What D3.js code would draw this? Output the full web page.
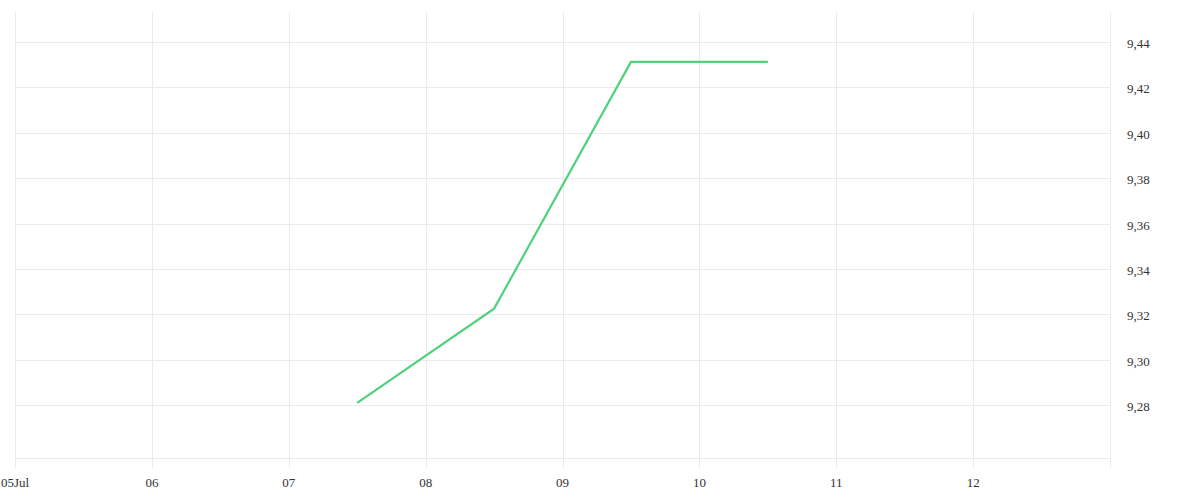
<!DOCTYPE html>
<html>
<head>
<meta charset="utf-8">
<script src="https://cdn.jsdelivr.net/npm/d3@7"></script>
<style>
  html, body { margin: 0; padding: 0; background: #fff; }
  svg { display: block; }
  text { font-family: "Liberation Serif", "DejaVu Serif", serif; font-size: 13px; fill: #333; }
</style>
</head>
<body>
<svg id="chart" width="1200" height="500"></svg>
<script>
const dates = ["2024-07-07T12:00", "2024-07-08T12:00", "2024-07-09T12:00", "2024-07-10T12:00"];
const values = [9.281, 9.3225, 9.4312, 9.4312];
const yTicks = [9.28, 9.30, 9.32, 9.34, 9.36, 9.38, 9.40, 9.42, 9.44];
const xTickDays = ["2024-07-05", "2024-07-06", "2024-07-07", "2024-07-08", "2024-07-09", "2024-07-10", "2024-07-11", "2024-07-12"];
const xTickLabels = ["05Jul", "06", "07", "08", "09", "10", "11", "12"];
const xDomain = ["2024-07-05T00:00", "2024-07-13T00:00"];
const yDomain = [9.2567, 9.4532];

const parse = d3.timeParse("%Y-%m-%dT%H:%M");
const parseDay = d3.timeParse("%Y-%m-%d");

const mLeft = 15, mRight = 1110, mTop = 12, mBottom = 458;
const svg = d3.select("#chart");

const x = d3.scaleTime().domain(xDomain.map(parse)).range([mLeft, mRight]);
const y = d3.scaleLinear().domain(yDomain).range([mBottom, mTop]);

const grid = "#ebebeb";

// horizontal grid
svg.append("g").selectAll("line").data(yTicks).join("line")
  .attr("x1", mLeft).attr("x2", mRight)
  .attr("y1", d => Math.round(y(d)) + 0.5).attr("y2", d => Math.round(y(d)) + 0.5)
  .attr("stroke", grid).attr("stroke-width", 1);
// bottom line
svg.append("line").attr("x1", mLeft).attr("x2", mRight)
  .attr("y1", mBottom + 0.5).attr("y2", mBottom + 0.5)
  .attr("stroke", grid);

// vertical grid
const xTicks = xTickDays.map(parseDay);
svg.append("g").selectAll("line").data(xTicks).join("line")
  .attr("x1", d => Math.round(x(d)) + 0.5).attr("x2", d => Math.round(x(d)) + 0.5)
  .attr("y1", mTop).attr("y2", mBottom + 10)
  .attr("stroke", grid);
// right border
svg.append("line").attr("x1", mRight + 0.5).attr("x2", mRight + 0.5)
  .attr("y1", mTop).attr("y2", mBottom + 10).attr("stroke", grid);

// x labels
svg.append("g").selectAll("text").data(xTicks).join("text")
  .attr("x", d => x(d)).attr("y", 487)
  .attr("text-anchor", "middle")
  .text((d, i) => xTickLabels[i]);

// y labels
const fmt = d => d3.format(".2f")(d).replace(".", ",");
svg.append("g").selectAll("text").data(yTicks).join("text")
  .attr("x", 1127).attr("y", d => y(d) + 6)
  .text(fmt);

// line
const data = dates.map((d, i) => ({ t: parse(d), v: values[i] }));
svg.append("path").datum(data)
  .attr("fill", "none")
  .attr("stroke", "#4ed27b")
  .attr("stroke-width", 2.2)
  .attr("d", d3.line().x(d => x(d.t)).y(d => y(d.v)));
</script>
</body>
</html>
